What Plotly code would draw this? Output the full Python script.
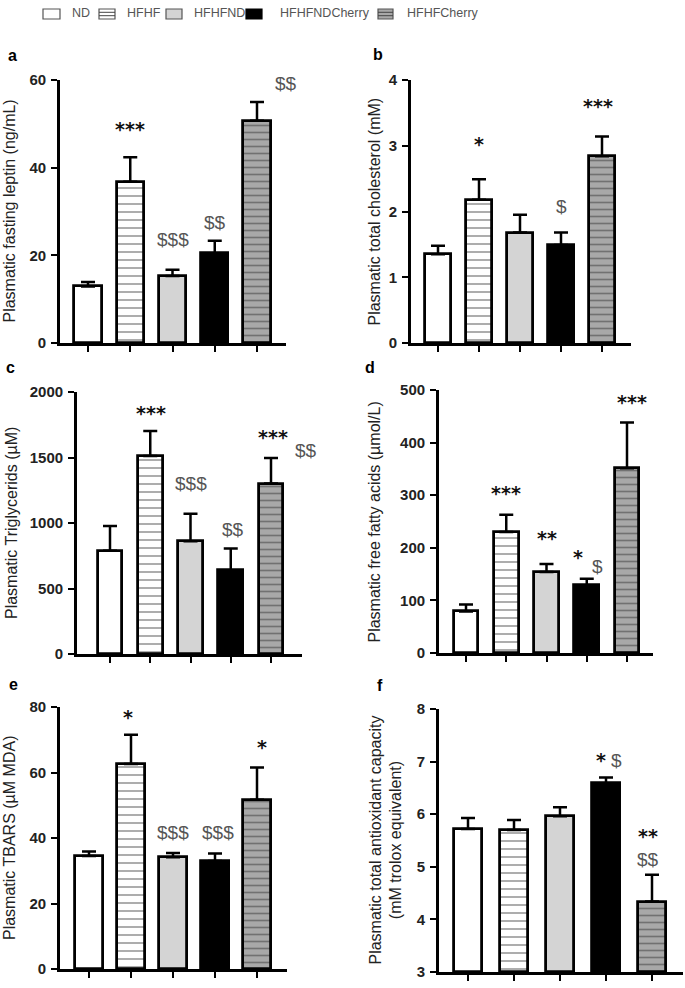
import plotly.graph_objects as go

W, H = 685, 988

groups = ["ND", "HFHF", "HFHFND", "HFHFNDCherry", "HFHFCherry"]

leptin = [12.9, 36.8, 15.3, 20.5, 50.7]
leptin_err = [1.0, 5.6, 1.4, 2.8, 4.3]

cholesterol = [1.35, 2.18, 1.68, 1.49, 2.84]
cholesterol_err = [0.13, 0.31, 0.27, 0.19, 0.30]

triglycerides = [788, 1512, 861, 640, 1301]
triglycerides_err = [190, 191, 209, 166, 196]

ffa = [79, 230, 154, 129, 351]
ffa_err = [13, 33, 15, 12, 87]

tbars = [34.5, 62.6, 34.1, 33.0, 51.7]
tbars_err = [1.4, 8.9, 1.3, 2.3, 9.8]

tac = [5.72, 5.70, 5.96, 6.59, 4.34]
tac_err = [0.21, 0.19, 0.17, 0.11, 0.51]

# significance labels: (group index, text, y value, x shift in px)
sig_a = [(1, "***", 48.8, 0), (2, "$$$", 23.5, 0), (3, "$$", 27.6, 0), (4, "***", 62.3, -1), (4, "$$", 59.3, 29)]
sig_b = [(1, "*", 3.03, 0), (3, "$", 2.07, 0), (4, "***", 3.6, -4)]
sig_c = [(1, "***", 1840, 1), (2, "$$$", 1298, 0), (3, "$$", 947, 2), (4, "***", 1656, 2), (4, "$$", 1557, 35)]
sig_d = [(1, "***", 304, 0), (2, "**", 219, 0), (3, "*", 183, -9), (3, "$", 165, 11), (4, "***", 477, 5)]
sig_e = [(1, "*", 77, -3), (2, "$$$", 41.8, 0), (3, "$$$", 41.8, 3), (4, "*", 67.8, 5)]
sig_f = [(3, "*", 7.03, -5), (3, "$", 7.03, 10), (4, "**", 5.59, -4), (4, "$$", 5.13, -4)]

panels = [
    dict(letter="a", vals=leptin, err=leptin_err, yr=[0, 60], dt=20, title="Plasmatic fasting leptin (ng/mL)",
         ax=60, axend=286, c0=88, sp=42.25, bw=0.64, top=80, bot=343, sig=sig_a, lx=12, ly=56, tx=9),
    dict(letter="b", vals=cholesterol, err=cholesterol_err, yr=[0, 4], dt=1, title="Plasmatic total cholesterol (mM)",
         ax=411, axend=631, c0=438, sp=41.0, bw=0.63, top=80, bot=343, sig=sig_b, lx=378, ly=54, tx=374),
    dict(letter="c", vals=triglycerides, err=triglycerides_err, yr=[0, 2000], dt=500, title="Plasmatic Triglycerids (µM)",
         ax=77, axend=302, c0=110, sp=40.25, bw=0.62, top=392, bot=654, sig=sig_c, lx=10, ly=367, tx=11),
    dict(letter="d", vals=ffa, err=ffa_err, yr=[0, 500], dt=100, title="Plasmatic free fatty acids (µmol/L)",
         ax=439, axend=653, c0=466, sp=40.25, bw=0.62, top=390, bot=653, sig=sig_d, lx=370, ly=367, tx=374),
    dict(letter="e", vals=tbars, err=tbars_err, yr=[0, 80], dt=20, title="Plasmatic TBARS (µM MDA)",
         ax=60, axend=287, c0=89, sp=42.0, bw=0.66, top=707, bot=969, sig=sig_e, lx=13, ly=684, tx=9),
    dict(letter="f", vals=tac, err=tac_err, yr=[3, 8], dt=1, title="Plasmatic total antioxidant capacity<br>(mM trolox equivalent)",
         ax=439, axend=683, c0=468, sp=46.0, bw=0.61, top=709, bot=972, sig=sig_f, lx=380, ly=685, tx=385),
]

fills = ["white", "white", "#d4d4d4", "black", "#a8a8a8"]
patterns = [
    dict(shape=""),
    dict(shape="-", fgcolor="black", bgcolor="white", size=8, solidity=0.16, fillmode="overlay"),
    dict(shape=""),
    dict(shape=""),
    dict(shape="-", fgcolor="#3a3a3a", bgcolor="#a8a8a8", size=7, solidity=0.24, fillmode="overlay"),
]

FONT = "Liberation Sans, Arial"

fig = go.Figure()
annotations = []
shapes = []

for i, p in enumerate(panels):
    n = i + 1
    xa = "x" if n == 1 else f"x{n}"
    ya = "y" if n == 1 else f"y{n}"
    y0 = p["yr"][0]
    for g in range(5):
        fig.add_trace(go.Bar(
            x=[g], y=[p["vals"][g] - y0], base=y0,
            width=p["bw"],
            marker=dict(color=fills[g], pattern=patterns[g], line=dict(color="black", width=2.8)),
            error_y=dict(type="data", symmetric=False, array=[p["err"][g]], arrayminus=[0],
                         color="black", thickness=2.5, width=7),
            xaxis=xa, yaxis=ya, showlegend=False, name=groups[g], hoverinfo="skip",
        ))
    left = (p["ax"] - p["c0"]) / p["sp"]
    right = (p["axend"] - p["c0"]) / p["sp"]
    xkey = "xaxis" if n == 1 else f"xaxis{n}"
    ykey = "yaxis" if n == 1 else f"yaxis{n}"
    fig.update_layout(**{
        xkey: dict(domain=[p["ax"] / W, p["axend"] / W], range=[left, right], anchor=ya,
                   showgrid=False, zeroline=False, showline=True, linecolor="black", linewidth=2.8,
                   ticks="outside", ticklen=6, tickwidth=2, tickcolor="black",
                   tickvals=[0, 1, 2, 3, 4], showticklabels=False, fixedrange=True, automargin=False),
        ykey: dict(domain=[1 - p["bot"] / H, 1 - p["top"] / H], range=p["yr"], anchor=xa,
                   showgrid=False, zeroline=False, showline=True, linecolor="black", linewidth=2.8,
                   ticks="outside", ticklen=6, tickwidth=2, tickcolor="black", dtick=p["dt"],
                   tick0=y0,
                   tickfont=dict(family=FONT, size=15, color="#222", weight="bold"),
                   ticklabelstandoff=2, fixedrange=True, automargin=False),
    })
    annotations.append(dict(text=f"<b>{p['letter']}</b>", x=p["lx"] / W, y=1 - p["ly"] / H, xref="paper", yref="paper",
                            showarrow=False, xanchor="center", yanchor="middle",
                            font=dict(family=FONT, size=16, color="black")))
    annotations.append(dict(text=p["title"], x=p["tx"] / W, y=1 - (p["top"] + p["bot"]) / 2 / H,
                            xref="paper", yref="paper", textangle=-90, showarrow=False,
                            xanchor="center", yanchor="middle",
                            font=dict(family=FONT, size=16, color="#222")))
    for g, txt, yv, dx in p["sig"]:
        parts = []
        for ch in txt:
            if ch == "*":
                parts.append('<span style="font-family:DejaVu Sans;font-weight:bold;font-size:19px;color:#111">*</span>')
            else:
                parts.append('<span style="color:#555">$</span>')
        annotations.append(dict(text="".join(parts), x=g, y=yv, xref=xa, yref=ya, showarrow=False,
                                xanchor="center", yanchor="middle", xshift=dx,
                                font=dict(family=FONT, size=19, color="#555")))

# legend built from swatches + text
legend_items = [(43, 60, 70), (99, 115, 125), (166, 182, 192), (246, 262, 278), (378, 393, 405)]
ly0, ly1 = 9, 19
for g, (x0, x1, tx) in enumerate(legend_items):
    shapes.append(dict(type="rect", xref="paper", yref="paper", x0=x0 / W, x1=x1 / W,
                       y0=1 - ly1 / H, y1=1 - ly0 / H, fillcolor=fills[g],
                       line=dict(color="#555" if g != 3 else "black", width=1.2)))
    if patterns[g].get("shape") == "-":
        for yy in (12.3, 15.7):
            shapes.append(dict(type="line", xref="paper", yref="paper", x0=x0 / W, x1=x1 / W,
                               y0=1 - yy / H, y1=1 - yy / H,
                               line=dict(color="#444", width=1)))
    annotations.append(dict(text=groups[g], x=tx / W, y=1 - 13 / H, xref="paper", yref="paper",
                            showarrow=False, xanchor="left", yanchor="middle",
                            font=dict(family=FONT, size=12.5, color="#555")))

fig.update_layout(
    width=W, height=H, margin=dict(l=0, r=0, t=0, b=0, autoexpand=False),
    paper_bgcolor="white", plot_bgcolor="white",
    annotations=annotations, shapes=shapes, bargap=0, showlegend=False, hovermode=False,
)

fig.write_html("out.html", config={"displayModeBar": False},
               post_script="document.body.style.margin='0';document.body.style.overflow='hidden';")
